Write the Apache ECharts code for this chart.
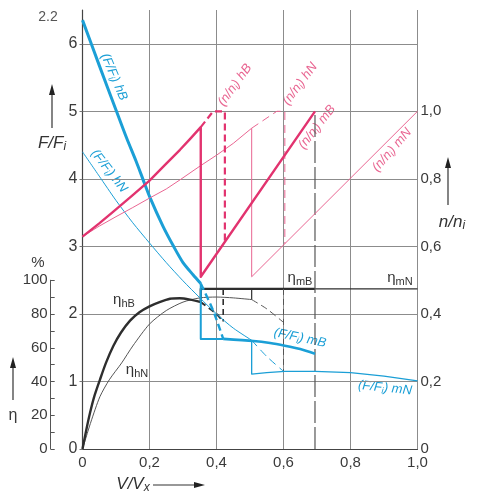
<!DOCTYPE html>
<html><head><meta charset="utf-8">
<script src="https://cdn.jsdelivr.net/npm/echarts@6/dist/echarts.min.js"></script>
<style>html,body{margin:0;padding:0;background:#fff}#c{width:477px;height:498px}</style>
</head><body><div id="c"></div>
<script>
// ---------- data ----------
// x = V/Vx
const xTicks = [0, 0.2, 0.4, 0.6, 0.8, 1.0];
// (F/Fi) hB  (left axis F/Fi)
const vFhB = [0, 0.05, 0.1, 0.132, 0.16, 0.18, 0.2, 0.24, 0.273, 0.3, 0.33, 0.353];
const FhB  = [6.35, 5.68, 5.02, 4.6, 4.26, 4.0, 3.74, 3.3, 2.99, 2.76, 2.58, 2.45];
const vFhBdash = [0.353, 0.39, 0.42];
const FhBdash  = [2.45, 2.05, 1.63];
const vFswB = [0.353, 0.353, 0.42];
const FswB  = [2.45, 1.63, 1.63];
// (F/Fi) mB
const vFmB = [0.42, 0.51, 0.56, 0.604, 0.65, 0.694];
const FmB  = [1.63, 1.6, 1.57, 1.53, 1.48, 1.41];
// (F/Fi) hN
const vFhN = [0, 0.05, 0.1, 0.15, 0.2, 0.25, 0.3, 0.35, 0.4, 0.45, 0.505];
const FhN  = [4.4, 4.04, 3.68, 3.35, 3.05, 2.76, 2.49, 2.24, 2.0, 1.79, 1.61];
const vFhNdash = [0.505, 0.55, 0.6];
const FhNdash  = [1.61, 1.37, 1.15];
// (F/Fi) mN (with switch at 0.505)
const vFmN = [0.505, 0.505, 0.55, 0.604, 0.694, 0.8, 0.9, 1.0];
const FmN  = [1.61, 1.11, 1.13, 1.15, 1.15, 1.13, 1.08, 1.01];
// efficiency eta in %
const vEhB = [0, 0.011, 0.022, 0.035, 0.052, 0.07, 0.092, 0.115, 0.142, 0.17, 0.2, 0.23, 0.261, 0.29, 0.321, 0.353];
const EhB  = [0, 11, 21, 31, 41, 51, 61, 69, 76, 81, 84.5, 87, 89, 89.3, 88.5, 87];
const vEhBdash = [0.353, 0.4, 0.42];
const EhBdash  = [87, 80, 75.5];
const vEhN = [0, 0.025, 0.052, 0.08, 0.117, 0.15, 0.2, 0.25, 0.3, 0.35, 0.4, 0.45, 0.505];
const EhN  = [0, 16, 31, 41, 51, 61, 74, 82, 87, 89.5, 90, 89.5, 88.5];
const vEhNdash = [0.505, 0.55, 0.6];
const EhNdash  = [88.5, 83, 75];
const vEmB = [0.353, 0.353, 0.694];
const EmB  = [87, 94.8, 94.8];
const vEmN = [0.505, 0.505, 1.0];
const EmN  = [88.5, 94.8, 94.8];
const vEdrop42 = [0.42, 0.42];
const Edrop42  = [94.8, 75.5];
const vEdrop60 = [0.6, 0.6];
const Edrop60  = [94.8, 46];
// n/ni (right axis)
const vNhB = [0, 0.05, 0.092, 0.15, 0.2, 0.25, 0.291, 0.32, 0.353, 0.353, 0.694];
const NhB  = [0.629, 0.668, 0.703, 0.752, 0.795, 0.845, 0.886, 0.917, 0.953, 0.51, 1.0];
const vNhBdash = [0.353, 0.39, 0.425, 0.425];
const NhBdash  = [0.953, 1.0, 1.0, 0.613];
const vNhN = [0, 0.05, 0.1, 0.15, 0.2, 0.25, 0.291, 0.351, 0.4, 0.45, 0.505, 0.505, 1.0];
const NhN  = [0.629, 0.66, 0.688, 0.715, 0.743, 0.77, 0.797, 0.838, 0.87, 0.905, 0.95, 0.51, 1.0];
const vNhNdash = [0.505, 0.58, 0.604, 0.604];
const NhNdash  = [0.95, 1.0, 1.0, 0.608];
const vLimit = [0.694, 0.694];
const NLimit = [0, 1.0];

// ---------- chart ----------
const zip = (a, b) => a.map((v, i) => [v, b[i]]);
const BLUE = '#1b9fd6', PINK = '#e2336f', PINK2 = '#e96692', DARK = '#2e2e2e', GREY = '#555';
const FONT = '"Liberation Sans", Arial, sans-serif';
const comma = v => v === 0 ? '0' : v.toFixed(1).replace('.', ',');

function ser(x, y, yIdx, color, width, type, smooth) {
  return {
    type: 'line', xAxisIndex: 0, yAxisIndex: yIdx, data: zip(x, y), symbol: 'none',
    smooth: smooth ? 0.25 : false,
    lineStyle: { color: color, width: width, type: type || 'solid', cap: 'butt', join: 'round' },
    silent: true, animation: false
  };
}

const chart = echarts.init(document.getElementById('c'), null, { renderer: 'canvas' });

function lbl(text, x, y, rotDeg, color, size, italic) {
  return {
    type: 'text', x: x, y: y, rotation: (rotDeg || 0) * Math.PI / 180, silent: true,
    style: {
      text: text, x: 0, y: 0, align: 'center', verticalAlign: 'middle', fill: color,
      fontFamily: FONT, fontSize: size, fontStyle: italic ? 'italic' : 'normal',
      rich: { s: { fontSize: Math.round(size * 0.7), fill: color, fontFamily: FONT, fontStyle: italic ? 'italic' : 'normal', padding: [Math.round(size * 0.45), 0, 0, 0] } }
    }
  };
}
function arrow(x1, y1, x2, y2) {
  const dx = x2 - x1, dy = y2 - y1, L = Math.hypot(dx, dy), ux = dx / L, uy = dy / L;
  const bx = x2 - ux * 11, by = y2 - uy * 11;
  return [
    { type: 'line', silent: true, shape: { x1: x1, y1: y1, x2: bx, y2: by }, style: { stroke: '#333', lineWidth: 1.2 } },
    { type: 'polygon', silent: true, shape: { points: [[x2, y2], [bx - uy * 3, by + ux * 3], [bx + uy * 3, by - ux * 3]] }, style: { fill: '#222' } }
  ];
}

const option = {
  backgroundColor: '#fff',
  animation: false,
  grid: [
    { left: 82.5, right: 59.5, top: 10, bottom: 49 },
    { left: 50.7, width: 10, top: 280.25, bottom: 49 }
  ],
  xAxis: [
    { gridIndex: 0, type: 'value', min: 0, max: 1, interval: 0.2,
      axisLine: { show: true, lineStyle: { color: '#444', width: 1.2 } },
      axisTick: { show: false },
      axisLabel: { formatter: comma, color: '#3a3a3a', fontSize: 15, fontFamily: FONT, margin: 6 },
      splitLine: { show: true, lineStyle: { color: '#8c8c8c', width: 1 } } },
    { gridIndex: 1, type: 'value', min: 0, max: 1, show: false }
  ],
  yAxis: [
    { gridIndex: 0, type: 'value', min: 0, max: 6.5, interval: 1, position: 'left',
      axisLine: { show: true, lineStyle: { color: '#444', width: 1.2 } },
      axisTick: { show: true, length: 3, lineStyle: { color: '#777' } },
      axisLabel: { formatter: v => Number.isInteger(v) ? String(v) : '', color: '#3a3a3a', fontSize: 16, fontFamily: FONT, margin: 5, showMaxLabel: false },
      splitLine: { show: true, showMaxLine: false, showMinLine: false, lineStyle: { color: '#8c8c8c', width: 1 } } },
    { gridIndex: 0, type: 'value', min: 0, max: 1.3, interval: 0.2, position: 'right',
      axisLine: { show: false }, axisTick: { show: false },
      axisLabel: { formatter: v => v > 1.05 ? '' : comma(v), color: '#3a3a3a', fontSize: 15, fontFamily: FONT, margin: 3, showMaxLabel: false },
      splitLine: { show: false } },
    { gridIndex: 0, type: 'value', min: 0, max: 260, show: false },
    { gridIndex: 1, type: 'value', min: 0, max: 100, interval: 10, position: 'left',
      axisLine: { show: true, lineStyle: { color: '#555', width: 1 } },
      axisTick: { show: true, inside: true, length: 4, lineStyle: { color: '#555' } },
      axisLabel: { formatter: v => (Math.round(v) % 20 === 0) ? String(Math.round(v)) : '', color: '#3a3a3a', fontSize: 15, fontFamily: FONT, margin: 3 },
      splitLine: { show: false } }
  ],
  series: [
    // eta curves (behind)
    ser(vEhN, EhN, 2, GREY, 1, 'solid', true),
    ser(vEhNdash, EhNdash, 2, GREY, 1, [7, 4], true),
    ser(vEhB, EhB, 2, DARK, 2.4, 'solid', true),
    ser(vEhBdash, EhBdash, 2, DARK, 2, [6, 4], true),
    ser(vEmB, EmB, 2, DARK, 2.2),
    ser(vEmN, EmN, 2, DARK, 1.2),
    ser(vEdrop42, Edrop42, 2, DARK, 1.6, [6, 4]),
    ser(vEdrop60, Edrop60, 2, GREY, 1, [6, 4]),
    ser(vLimit, NLimit, 1, GREY, 1.2, [22, 4]),
    // blue F/Fi
    ser(vFhN, FhN, 0, BLUE, 1, 'solid', true),
    ser(vFhNdash, FhNdash, 0, BLUE, 1, [8, 5], true),
    ser(vFmN, FmN, 0, BLUE, 1.3),
    ser(vFhB, FhB, 0, BLUE, 3, 'solid', true),
    ser(vFhBdash, FhBdash, 0, BLUE, 2.4, [7, 4], true),
    ser(vFswB, FswB, 0, BLUE, 2),
    ser(vFmB, FmB, 0, BLUE, 2.6, 'solid', true),
    // pink n/ni
    ser(vNhN, NhN, 1, PINK2, 1),
    ser(vNhNdash, NhNdash, 1, PINK2, 1, [8, 5]),
    ser(vNhB, NhB, 1, PINK, 2.4),
    ser(vNhBdash, NhBdash, 1, PINK, 2.2, [7, 4])
  ],
  graphic: [
    lbl('2.2', 48, 17, 0, '#555', 14, false),
    lbl('F/F{s|i}', 52, 143, 0, '#333', 17, true),
    ...arrow(52, 128, 52, 84),
    lbl('%', 38, 263, 0, '#3a3a3a', 15, false),
    lbl('η', 13, 416, 0, '#3a3a3a', 16, false),
    ...arrow(13, 400, 13, 357),
    lbl('n/n{s|i}', 452, 222, 0, '#333', 17, true),
    ...arrow(448, 205, 448, 157),
    lbl('V/V{s|x}', 133, 484, 0, '#333', 17, true),
    ...arrow(153, 485, 205, 485),
    lbl('(F/F{s|i}) hB', 114, 77, -67, BLUE, 13, true),
    lbl('(F/F{s|i}) hN', 109, 171, -52, BLUE, 13, true),
    lbl('(F/F{s|i}) mB', 300, 338, -12, BLUE, 13, true),
    lbl('(F/F{s|i}) mN', 385, 388, -6, BLUE, 13, true),
    lbl('(n/n{s|i}) hB', 235, 85, 54, PINK2, 13, true),
    lbl('(n/n{s|i}) hN', 300, 84, 53, PINK2, 13, true),
    lbl('(n/n{s|i}) mB', 317, 127, 52, PINK2, 13, true),
    lbl('(n/n{s|i}) mN', 392, 150, 49, PINK2, 13, true),
    lbl('η{s|mB}', 300, 278, 0, '#333', 15, false),
    lbl('η{s|mN}', 400, 278, 0, '#333', 15, false),
    lbl('η{s|hB}', 124, 300, 0, '#333', 15, false),
    lbl('η{s|hN}', 137, 370, 0, '#333', 15, false)
  ]
};
chart.setOption(option);
</script>
</body></html>
